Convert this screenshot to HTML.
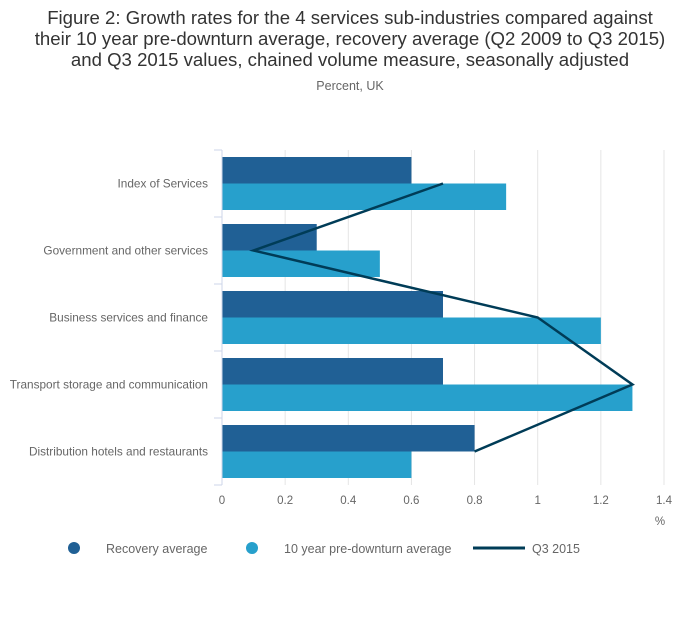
<!DOCTYPE html>
<html><head><meta charset="utf-8"><style>
body{margin:0;background:#fff;font-family:"Liberation Sans",sans-serif;}
</style></head><body>
<svg width="700" height="635" xmlns="http://www.w3.org/2000/svg" id="chart">
<text x="350" y="24" text-anchor="middle" font-size="18.6" fill="#333">Figure 2: Growth rates for the 4 services sub-industries compared against</text>
<text x="350" y="45" text-anchor="middle" font-size="18.6" fill="#333">their 10 year pre-downturn average, recovery average (Q2 2009 to Q3 2015)</text>
<text x="350" y="66" text-anchor="middle" font-size="18.6" fill="#333">and Q3 2015 values, chained volume measure, seasonally adjusted</text>
<text x="350" y="90" text-anchor="middle" font-size="12.5" fill="#666">Percent, UK</text>
<g id="grid"></g><g id="bars"></g><g id="axes"></g><g id="line"></g>
<text x="660" y="525" text-anchor="middle" font-size="11.5" fill="#666">%</text>
<g font-size="12.5" fill="#666">
<circle cx="74" cy="548" r="6" fill="#206095"/>
<text x="106" y="553">Recovery average</text>
<circle cx="252" cy="548" r="6" fill="#27a0cc"/>
<text x="284" y="553">10 year pre-downturn average</text>
<line x1="473" y1="548" x2="525" y2="548" stroke="#003c57" stroke-width="3"/>
<text x="532" y="553">Q3 2015</text>
</g>
</svg>
<script>
const categories=["Index of Services","Government and other services","Business services and finance","Transport storage and communication","Distribution hotels and restaurants"];
const recovery=[0.6,0.3,0.7,0.7,0.8];
const preDownturn=[0.9,0.5,1.2,1.3,0.6];
const q3=[0.7,0.1,1.0,1.3,0.8];
const ticks=[0,0.2,0.4,0.6,0.8,1,1.2,1.4];
const ns="http://www.w3.org/2000/svg";
const X0=222,X1=664,XMAX=1.4,Y0=150,BAND=67;
const xs=v=>X0+v/XMAX*(X1-X0);
const yb=i=>Y0+i*BAND;
function mk(p,t,a){const e=document.createElementNS(ns,t);for(const k in a)e.setAttribute(k,a[k]);document.getElementById(p).appendChild(e);return e;}
ticks.forEach((t,i)=>{
 const g=mk('grid','line',{x1:xs(t),x2:xs(t),y1:Y0,y2:yb(categories.length),stroke:'#e5e5e5'});
 
 
 const tx=mk('axes','text',{x:xs(t),y:504,'text-anchor':'middle','font-size':11.5,fill:'#666'});
 tx.textContent=String(t);
 
 
});
for(let i=0;i<=categories.length;i++){
 const l=mk('axes','line',{x1:214,x2:222,y1:yb(i),y2:yb(i),stroke:'#ccd6e8'});
 
 
}
const ax=mk('axes','line',{x1:222,x2:222,y1:Y0,y2:yb(categories.length),stroke:'#ccd6e8'});


categories.forEach((c,i)=>{
 const t=mk('axes','text',{x:208,y:yb(i)+BAND/2+4,'text-anchor':'end','font-size':11.8,fill:'#666'});
 t.textContent=c;
 
 
 const r1=mk('bars','rect',{x:X0,y:yb(i)+7,width:xs(recovery[i])-X0,height:26.5,fill:'#206095'});
 
 
 const r2=mk('bars','rect',{x:X0,y:yb(i)+33.5,width:xs(preDownturn[i])-X0,height:26.5,fill:'#27a0cc'});
 
 
});
const pts=q3.map((v,i)=>xs(v)+','+(yb(i)+BAND/2)).join(' ');
const pl=mk('line','polyline',{points:pts,fill:'none',stroke:'#003c57','stroke-width':2.5});


</script>
</body></html>
